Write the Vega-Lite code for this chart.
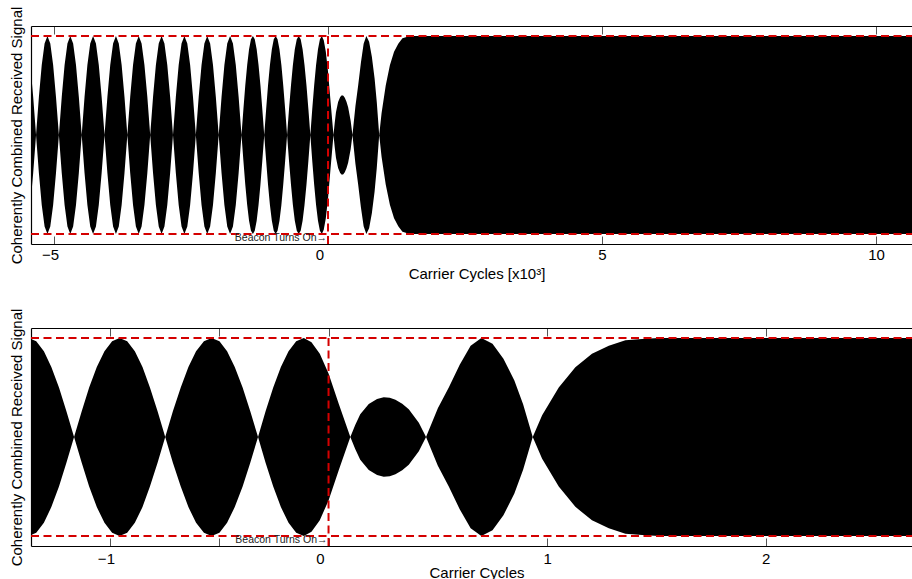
{
  "$schema": "https://vega.github.io/schema/vega-lite/v6.json",
  "padding": {"left": 8, "top": 6, "right": 0, "bottom": 0},
  "background": "white",
  "datasets": {
    "env": [
      {"x": -5.536, "hi": 1, "lo": -1},
      {"x": -5.484, "hi": 0.924, "lo": -0.924},
      {"x": -5.432, "hi": 0.707, "lo": -0.707},
      {"x": -5.380, "hi": 0.383, "lo": -0.383},
      {"x": -5.328, "hi": 0, "lo": 0},
      {"x": -5.276, "hi": 0.383, "lo": -0.383},
      {"x": -5.224, "hi": 0.707, "lo": -0.707},
      {"x": -5.172, "hi": 0.924, "lo": -0.924},
      {"x": -5.120, "hi": 1, "lo": -1},
      {"x": -5.068, "hi": 0.924, "lo": -0.924},
      {"x": -5.016, "hi": 0.707, "lo": -0.707},
      {"x": -4.964, "hi": 0.383, "lo": -0.383},
      {"x": -4.911, "hi": 0, "lo": 0},
      {"x": -4.859, "hi": 0.383, "lo": -0.383},
      {"x": -4.807, "hi": 0.707, "lo": -0.707},
      {"x": -4.755, "hi": 0.924, "lo": -0.924},
      {"x": -4.703, "hi": 1, "lo": -1},
      {"x": -4.651, "hi": 0.924, "lo": -0.924},
      {"x": -4.599, "hi": 0.707, "lo": -0.707},
      {"x": -4.547, "hi": 0.383, "lo": -0.383},
      {"x": -4.495, "hi": 0, "lo": 0},
      {"x": -4.443, "hi": 0.383, "lo": -0.383},
      {"x": -4.391, "hi": 0.707, "lo": -0.707},
      {"x": -4.339, "hi": 0.924, "lo": -0.924},
      {"x": -4.287, "hi": 1, "lo": -1},
      {"x": -4.235, "hi": 0.924, "lo": -0.924},
      {"x": -4.183, "hi": 0.707, "lo": -0.707},
      {"x": -4.131, "hi": 0.383, "lo": -0.383},
      {"x": -4.078, "hi": 0, "lo": 0},
      {"x": -4.026, "hi": 0.383, "lo": -0.383},
      {"x": -3.974, "hi": 0.707, "lo": -0.707},
      {"x": -3.922, "hi": 0.924, "lo": -0.924},
      {"x": -3.870, "hi": 1, "lo": -1},
      {"x": -3.818, "hi": 0.924, "lo": -0.924},
      {"x": -3.766, "hi": 0.707, "lo": -0.707},
      {"x": -3.714, "hi": 0.383, "lo": -0.383},
      {"x": -3.662, "hi": 0, "lo": 0},
      {"x": -3.610, "hi": 0.383, "lo": -0.383},
      {"x": -3.558, "hi": 0.707, "lo": -0.707},
      {"x": -3.506, "hi": 0.924, "lo": -0.924},
      {"x": -3.454, "hi": 1, "lo": -1},
      {"x": -3.402, "hi": 0.924, "lo": -0.924},
      {"x": -3.350, "hi": 0.707, "lo": -0.707},
      {"x": -3.297, "hi": 0.383, "lo": -0.383},
      {"x": -3.245, "hi": 0, "lo": 0},
      {"x": -3.193, "hi": 0.383, "lo": -0.383},
      {"x": -3.141, "hi": 0.707, "lo": -0.707},
      {"x": -3.089, "hi": 0.924, "lo": -0.924},
      {"x": -3.037, "hi": 1, "lo": -1},
      {"x": -2.985, "hi": 0.924, "lo": -0.924},
      {"x": -2.933, "hi": 0.707, "lo": -0.707},
      {"x": -2.881, "hi": 0.383, "lo": -0.383},
      {"x": -2.829, "hi": 0, "lo": 0},
      {"x": -2.777, "hi": 0.383, "lo": -0.383},
      {"x": -2.725, "hi": 0.707, "lo": -0.707},
      {"x": -2.673, "hi": 0.924, "lo": -0.924},
      {"x": -2.621, "hi": 1, "lo": -1},
      {"x": -2.568, "hi": 0.924, "lo": -0.924},
      {"x": -2.516, "hi": 0.707, "lo": -0.707},
      {"x": -2.464, "hi": 0.383, "lo": -0.383},
      {"x": -2.412, "hi": 0, "lo": 0},
      {"x": -2.360, "hi": 0.383, "lo": -0.383},
      {"x": -2.308, "hi": 0.707, "lo": -0.707},
      {"x": -2.256, "hi": 0.924, "lo": -0.924},
      {"x": -2.204, "hi": 1, "lo": -1},
      {"x": -2.151, "hi": 0.924, "lo": -0.924},
      {"x": -2.099, "hi": 0.707, "lo": -0.707},
      {"x": -2.047, "hi": 0.383, "lo": -0.383},
      {"x": -1.995, "hi": 0, "lo": 0},
      {"x": -1.943, "hi": 0.383, "lo": -0.383},
      {"x": -1.891, "hi": 0.707, "lo": -0.707},
      {"x": -1.839, "hi": 0.924, "lo": -0.924},
      {"x": -1.787, "hi": 1, "lo": -1},
      {"x": -1.735, "hi": 0.924, "lo": -0.924},
      {"x": -1.683, "hi": 0.707, "lo": -0.707},
      {"x": -1.631, "hi": 0.383, "lo": -0.383},
      {"x": -1.579, "hi": 0, "lo": 0},
      {"x": -1.544, "hi": 0.259, "lo": -0.259},
      {"x": -1.510, "hi": 0.5, "lo": -0.5},
      {"x": -1.475, "hi": 0.707, "lo": -0.707},
      {"x": -1.441, "hi": 0.866, "lo": -0.866},
      {"x": -1.406, "hi": 0.966, "lo": -0.966},
      {"x": -1.371, "hi": 1, "lo": -1},
      {"x": -1.337, "hi": 0.966, "lo": -0.966},
      {"x": -1.302, "hi": 0.866, "lo": -0.866},
      {"x": -1.268, "hi": 0.707, "lo": -0.707},
      {"x": -1.233, "hi": 0.5, "lo": -0.5},
      {"x": -1.199, "hi": 0.259, "lo": -0.259},
      {"x": -1.164, "hi": 0, "lo": 0},
      {"x": -1.129, "hi": 0.259, "lo": -0.259},
      {"x": -1.095, "hi": 0.5, "lo": -0.5},
      {"x": -1.060, "hi": 0.707, "lo": -0.707},
      {"x": -1.025, "hi": 0.866, "lo": -0.866},
      {"x": -0.990, "hi": 0.966, "lo": -0.966},
      {"x": -0.956, "hi": 1, "lo": -1},
      {"x": -0.921, "hi": 0.966, "lo": -0.966},
      {"x": -0.886, "hi": 0.866, "lo": -0.866},
      {"x": -0.851, "hi": 0.707, "lo": -0.707},
      {"x": -0.817, "hi": 0.5, "lo": -0.5},
      {"x": -0.782, "hi": 0.259, "lo": -0.259},
      {"x": -0.747, "hi": 0, "lo": 0},
      {"x": -0.712, "hi": 0.259, "lo": -0.259},
      {"x": -0.676, "hi": 0.5, "lo": -0.5},
      {"x": -0.641, "hi": 0.707, "lo": -0.707},
      {"x": -0.606, "hi": 0.866, "lo": -0.866},
      {"x": -0.570, "hi": 0.966, "lo": -0.966},
      {"x": -0.535, "hi": 1, "lo": -1},
      {"x": -0.499, "hi": 0.966, "lo": -0.966},
      {"x": -0.464, "hi": 0.866, "lo": -0.866},
      {"x": -0.429, "hi": 0.707, "lo": -0.707},
      {"x": -0.393, "hi": 0.5, "lo": -0.5},
      {"x": -0.358, "hi": 0.259, "lo": -0.259},
      {"x": -0.3225, "hi": 0, "lo": 0},
      {"x": -0.288, "hi": 0.259, "lo": -0.259},
      {"x": -0.253, "hi": 0.5, "lo": -0.5},
      {"x": -0.218, "hi": 0.707, "lo": -0.707},
      {"x": -0.183, "hi": 0.866, "lo": -0.866},
      {"x": -0.148, "hi": 0.966, "lo": -0.966},
      {"x": -0.113, "hi": 1, "lo": -1},
      {"x": -0.078, "hi": 0.955, "lo": -0.955},
      {"x": -0.040, "hi": 0.84, "lo": -0.84},
      {"x": 0, "hi": 0.64, "lo": -0.64},
      {"x": 0.047, "hi": 0.333, "lo": -0.333},
      {"x": 0.0997, "hi": 0, "lo": 0},
      {"x": 0.122, "hi": 0.12, "lo": -0.12},
      {"x": 0.145, "hi": 0.23, "lo": -0.23},
      {"x": 0.184, "hi": 0.333, "lo": -0.333},
      {"x": 0.222, "hi": 0.384, "lo": -0.384},
      {"x": 0.2525, "hi": 0.4, "lo": -0.4},
      {"x": 0.28, "hi": 0.395, "lo": -0.395},
      {"x": 0.306, "hi": 0.376, "lo": -0.376},
      {"x": 0.337, "hi": 0.335, "lo": -0.335},
      {"x": 0.367, "hi": 0.28, "lo": -0.28},
      {"x": 0.413, "hi": 0.145, "lo": -0.145},
      {"x": 0.446, "hi": 0, "lo": 0},
      {"x": 0.5, "hi": 0.29, "lo": -0.29},
      {"x": 0.55, "hi": 0.5, "lo": -0.5},
      {"x": 0.6, "hi": 0.73, "lo": -0.73},
      {"x": 0.65, "hi": 0.92, "lo": -0.92},
      {"x": 0.699, "hi": 1, "lo": -1},
      {"x": 0.75, "hi": 0.94, "lo": -0.94},
      {"x": 0.8, "hi": 0.79, "lo": -0.79},
      {"x": 0.85, "hi": 0.57, "lo": -0.57},
      {"x": 0.89, "hi": 0.33, "lo": -0.33},
      {"x": 0.934, "hi": 0, "lo": 0},
      {"x": 0.977, "hi": 0.22, "lo": -0.22},
      {"x": 1.053, "hi": 0.5, "lo": -0.5},
      {"x": 1.129, "hi": 0.705, "lo": -0.705},
      {"x": 1.205, "hi": 0.84, "lo": -0.84},
      {"x": 1.282, "hi": 0.92, "lo": -0.92},
      {"x": 1.358, "hi": 0.977, "lo": -0.977},
      {"x": 1.434, "hi": 0.99, "lo": -0.99},
      {"x": 1.511, "hi": 1, "lo": -1},
      {"x": 10.8, "hi": 1, "lo": -1}
    ],
    "hlines": [{"y": 1}, {"y": -1}],
    "vline": [{"x": 0, "y": 1, "y2": -1.1}],
    "note": [{"x": 0, "y": -1.072, "label": "Beacon Turns On→"}]
  },
  "vconcat": [
    {
      "width": 883,
      "height": 218,
      "resolve": {"axis": {"x": "independent", "y": "independent"}},
      "layer": [
        {
          "data": {"name": "env"},
          "mark": {"type": "area", "color": "#000000", "clip": true, "interpolate": "linear"},
          "encoding": {
            "x": {"field": "x", "type": "quantitative",
              "scale": {"domain": [-5.42, 10.693], "nice": false, "zero": false},
              "axis": {"orient": "bottom", "title": "Carrier Cycles [x10³]", "values": [-5, 0, 5, 10], "format": "d",
                "tickSize": -8, "labelPadding": 11, "titlePadding": 4, "titleX": 445.5,
                "labelOffset": {"condition": [{"test": "datum.value == 0", "value": -8.5}, {"test": "datum.value < 0", "value": -4}], "value": 0}}},
            "y": {"field": "hi", "type": "quantitative",
              "scale": {"domain": [-1.1, 1.1], "nice": false, "zero": false},
              "axis": {"orient": "left", "title": "Coherently Combined Received Signal", "labels": false, "ticks": false, "titlePadding": 7}},
            "y2": {"field": "lo"}
          }
        },
        {
          "data": {"name": "hlines"},
          "mark": {"type": "rule", "color": "#d40000", "strokeWidth": 2, "strokeDash": [8, 4.5]},
          "encoding": {"y": {"field": "y", "type": "quantitative", "axis": null}}
        },
        {
          "data": {"name": "vline"},
          "mark": {"type": "rule", "color": "#d40000", "strokeWidth": 2, "strokeDash": [8, 4.5]},
          "encoding": {
            "x": {"field": "x", "type": "quantitative",
              "axis": {"orient": "top", "title": null, "labels": false, "values": [-5, 0, 5, 10], "tickSize": -8}},
            "y": {"field": "y", "type": "quantitative", "axis": null},
            "y2": {"field": "y2"}
          }
        },
        {
          "data": {"name": "note"},
          "mark": {"type": "text", "align": "right", "baseline": "alphabetic", "fontSize": 10.5, "color": "#222222", "dx": -1, "font": "Liberation Sans"},
          "encoding": {
            "x": {"field": "x", "type": "quantitative", "axis": null},
            "y": {"field": "y", "type": "quantitative", "axis": null},
            "text": {"field": "label"}
          }
        }
      ]
    },
    {
      "width": 883,
      "height": 218,
      "resolve": {"axis": {"x": "independent", "y": "independent"}},
      "layer": [
        {
          "data": {"name": "env"},
          "mark": {"type": "area", "color": "#000000", "clip": true, "interpolate": "linear"},
          "encoding": {
            "x": {"field": "x", "type": "quantitative",
              "scale": {"domain": [-1.361, 2.678], "nice": false, "zero": false},
              "axis": {"orient": "bottom", "title": "Carrier Cycles", "values": [-1, -0.5, 0, 1, 2], "format": "d",
                "labelExpr": "datum.value == -0.5 ? '' : datum.label",
                "tickSize": -8, "labelPadding": 13, "titlePadding": -1, "titleX": 445.5,
                "labelOffset": {"condition": [{"test": "datum.value == 0", "value": -8.5}, {"test": "datum.value < 0", "value": -4}], "value": 0}}},
            "y": {"field": "hi", "type": "quantitative",
              "scale": {"domain": [-1.1, 1.1], "nice": false, "zero": false},
              "axis": {"orient": "left", "title": "Coherently Combined Received Signal", "labels": false, "ticks": false, "titlePadding": 7}},
            "y2": {"field": "lo"}
          }
        },
        {
          "data": {"name": "hlines"},
          "mark": {"type": "rule", "color": "#d40000", "strokeWidth": 2, "strokeDash": [8, 4.5]},
          "encoding": {"y": {"field": "y", "type": "quantitative", "axis": null}}
        },
        {
          "data": {"name": "vline"},
          "mark": {"type": "rule", "color": "#d40000", "strokeWidth": 2, "strokeDash": [8, 4.5]},
          "encoding": {
            "x": {"field": "x", "type": "quantitative",
              "axis": {"orient": "top", "title": null, "labels": false, "values": [-1, -0.5, 0, 1, 2], "tickSize": -8}},
            "y": {"field": "y", "type": "quantitative", "axis": null},
            "y2": {"field": "y2"}
          }
        },
        {
          "data": {"name": "note"},
          "mark": {"type": "text", "align": "right", "baseline": "alphabetic", "fontSize": 10.5, "color": "#222222", "dx": -1, "font": "Liberation Sans"},
          "encoding": {
            "x": {"field": "x", "type": "quantitative", "axis": null},
            "y": {"field": "y", "type": "quantitative", "axis": null},
            "text": {"field": "label"}
          }
        }
      ]
    }
  ],
  "spacing": 84,
  "bounds": "flush",
  "config": {
    "view": {"stroke": null},
    "font": "Liberation Sans",
    "axis": {
      "labelFont": "Liberation Sans", "titleFont": "Liberation Sans",
      "labelFontSize": 15, "titleFontSize": 15, "titleFontWeight": "normal",
      "labelColor": "#000000", "titleColor": "#000000",
      "domainColor": "#000000", "domainWidth": 1.2, "tickColor": "#555555", "tickWidth": 1,
      "grid": false
    }
  }
}
